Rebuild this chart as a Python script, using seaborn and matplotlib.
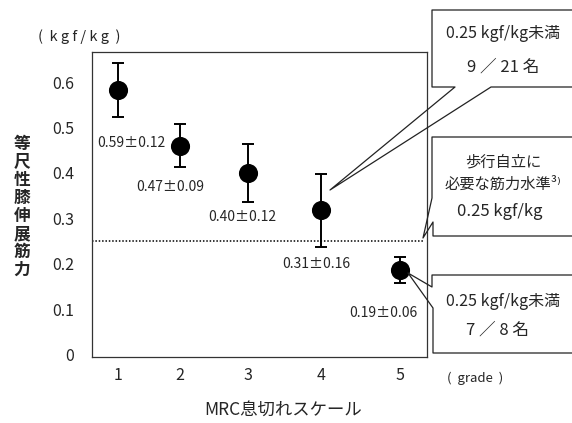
import numpy as np
import pandas as pd
import matplotlib
matplotlib.use("Agg")
import matplotlib.pyplot as plt
from matplotlib.lines import Line2D
import seaborn as sns

# data
grades = [1, 2, 3, 4, 5]
means = [0.582, 0.460, 0.400, 0.318, 0.186]
err_half = [0.060, 0.048, 0.063, 0.080, 0.029]
value_labels = ["0.59±0.12", "0.47±0.09", "0.40±0.12", "0.31±0.16", "0.19±0.06"]
ytick_vals = [0, 0.1, 0.2, 0.3, 0.4, 0.5, 0.6]
ytick_text = ["0", "0.1", "0.2", "0.3", "0.4", "0.5", "0.6"]
threshold = 0.25

# label offsets (points) relative to each marker
label_off = [(9, -38), (-7, -30), (-4, -32), (-3, -39), (-12, -31)]

df = pd.DataFrame({"grade": grades, "strength": means})

sns.set_style("white")
plt.rcParams["font.family"] = ["Noto Sans CJK JP", "DejaVu Sans"]

W, H = 572, 423
fig = plt.figure(figsize=(W / 100, H / 100), dpi=100)
ax = fig.add_axes([92 / W, 1 - 357 / H, 335 / W, 305 / H])

# uneven grade spacing on the original x axis
k = 0.0543
def fwd(x):
    x = np.asarray(x, dtype=float)
    return x + k * x ** 2
def inv(y):
    y = np.asarray(y, dtype=float)
    return (-1 + np.sqrt(np.maximum(1 + 4 * k * y, 0))) / (2 * k)
ax.set_xscale("function", functions=(fwd, inv))

ax.errorbar(grades, means, yerr=err_half, fmt="none", ecolor="black",
            elinewidth=1.4, capsize=4.5, capthick=1.4, zorder=2)
sns.scatterplot(data=df, x="grade", y="strength", s=190, color="black",
                edgecolor="black", linewidth=0, ax=ax, zorder=3)

for g, m, lab, off in zip(grades, means, value_labels, label_off):
    ax.annotate(lab, (g, m), xytext=off, textcoords="offset points",
                ha="center", va="center", fontsize=10)

ax.axhline(threshold, xmin=0, xmax=0.988, ls=(0, (1, 1.2)), lw=1.1, color="black")

ax.set_xlim(0.54, 5.33)
ax.set_ylim(-0.005, 0.666)
ax.set_xticks(grades)
ax.set_xticklabels([str(g) for g in grades], fontsize=11.5)
ax.set_yticks(ytick_vals)
ax.set_yticklabels(ytick_text, fontsize=11.5)
ax.minorticks_off()
ax.tick_params(axis="y", direction="in", length=6, width=1.3, pad=13, color="black")
ax.tick_params(axis="x", direction="in", length=9, width=1.5, pad=7, color="black")
ax.set_xlabel("")
ax.set_ylabel("")
for s in ax.spines.values():
    s.set_visible(True)
    s.set_linewidth(0.9)
    s.set_color("#333333")


def px(x, y):
    return x / W, 1 - y / H


def text_px(x, y, s, **kw):
    fig.text(*px(x, y), s, ha="center", va="center", **kw)


def poly_px(pts):
    xs = [p[0] / W for p in pts]
    ys = [1 - p[1] / H for p in pts]
    fig.add_artist(Line2D(xs, ys, transform=fig.transFigure, color="#222222",
                          lw=0.9, clip_on=False))


# axis captions
text_px(79, 37, "(  k g f / k g  )", fontsize=10.5)
text_px(22, 207, "\n".join("等尺性膝伸展筋力"), fontsize=12, fontweight="bold",
        linespacing=1.0)
text_px(283, 410, "MRC息切れスケール", fontsize=12.5)
text_px(475, 378, "(  grade  )", fontsize=9.5)

# callout boxes
poly_px([(580, 10), (432, 10), (432, 87), (455, 87), (330, 190), (491, 87), (580, 87)])
text_px(503, 33, "0.25 kgf/kg未満", fontsize=11.5)
text_px(503, 67, "9 ／ 21 名", fontsize=12)

poly_px([(580, 137), (432, 137), (432, 198), (423, 238), (433, 222), (433, 236), (580, 236)])
text_px(503, 162, "歩行自立に", fontsize=11)
text_px(503, 184, "必要な筋力水準³⁾", fontsize=11)
text_px(500, 211, "0.25 kgf/kg", fontsize=12)

poly_px([(580, 275), (432, 275), (432, 287), (408, 273), (433, 308), (433, 353), (580, 353)])
text_px(503, 301, "0.25 kgf/kg未満", fontsize=11.5)
text_px(498, 330, "7 ／ 8 名", fontsize=12)

fig.savefig("out.png", dpi=100)
